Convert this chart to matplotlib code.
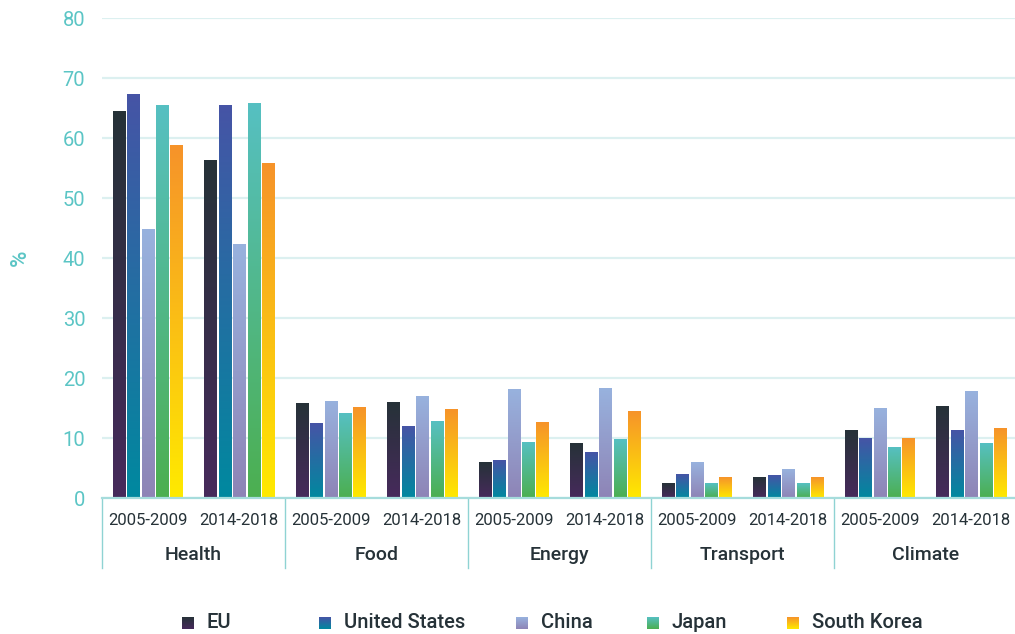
import matplotlib
matplotlib.use("Agg")
import matplotlib.pyplot as plt
import numpy as np
from matplotlib.colors import to_rgb

plt.rcParams['font.family'] = ['Roboto', 'DejaVu Sans']

categories = ['Health', 'Food', 'Energy', 'Transport', 'Climate']
periods = ['2005-2009', '2014-2018']
series = ['EU', 'United States', 'China', 'Japan', 'South Korea']

# values per series: [cat0 p0, cat0 p1, cat1 p0, cat1 p1, ...]
eu = [64.5, 56.3, 15.7, 15.9, 6.0, 9.1, 2.5, 3.4, 11.2, 15.2]
us = [67.3, 65.5, 12.5, 11.9, 6.25, 7.6, 4.0, 3.7, 9.9, 11.2]
china = [44.8, 42.2, 16.1, 17.0, 18.1, 18.3, 6.0, 4.75, 14.9, 17.8]
japan = [65.5, 65.8, 14.1, 12.7, 9.3, 9.8, 2.4, 2.5, 8.5, 9.1]
korea = [58.8, 55.8, 15.1, 14.8, 12.6, 14.4, 3.4, 3.35, 10.0, 11.6]
values = [eu, us, china, japan, korea]

# gradient colours (top, bottom) for each series
grads = [('#263238', '#472a5c'),
         ('#4654a6', '#00899f'),
         ('#98b2de', '#8e84b6'),
         ('#56c0c2', '#4caf50'),
         ('#f6932a', '#ffea00')]

teal = '#5bc5c5'
dark = '#263238'


def gradient(top, bottom, n=256):
    t = np.linspace(0, 1, n)[:, None, None]
    return (1 - t) * np.array(to_rgb(top)) + t * np.array(to_rgb(bottom))


fig = plt.figure(figsize=(10.15, 6.34), dpi=100)
ax = fig.add_axes([102 / 1015, 1 - 498 / 634, 915 / 1015, 480 / 634])

step = 0.157
width = 0.132
for s, vals in enumerate(values):
    img = gradient(*grads[s])
    for i, v in enumerate(vals):
        xc = i + 0.5 + (s - 2) * step
        ax.imshow(img, extent=[xc - width / 2, xc + width / 2, 0, v],
                  aspect='auto', origin='upper', zorder=3, interpolation='bilinear')

ax.set_xlim(0, 2 * len(categories))
ax.set_ylim(0, 80)
ax.set_yticks(range(0, 81, 10))
ax.set_xticks([])
ax.grid(axis='y', color='#dcf0f0', linewidth=1.6, zorder=0)
ax.tick_params(axis='y', length=0, pad=12, labelsize=14.5, labelcolor=teal)
for side in ['top', 'right', 'left']:
    ax.spines[side].set_visible(False)
ax.spines['bottom'].set_color('#a6dcdc')
ax.spines['bottom'].set_linewidth(1.6)
ax.spines['bottom'].set_zorder(4)
ax.set_ylabel('%', color=teal, fontsize=16, weight='medium')
ax.yaxis.set_label_coords(-0.078, 0.5)

# category / period labels under the axis
tr = ax.get_xaxis_transform()
for g, cat in enumerate(categories):
    for p, per in enumerate(periods):
        ax.text(2 * g + p + 0.5, -0.046, per, transform=tr, ha='center', va='center',
                fontsize=12, color=dark)
    ax.text(2 * g + 1, -0.119, cat, transform=tr, ha='center', va='center',
            fontsize=14, color=dark, weight='medium')
for g in range(len(categories)):
    ax.plot([2 * g, 2 * g], [0, -0.146], transform=tr, color='#8fd3d3',
            linewidth=1.0, clip_on=False)

# legend with gradient swatches
lax = fig.add_axes([0, 0, 1, 1], zorder=-1)
lax.axis('off')
swatch_x = [182, 319, 516, 647, 787]
for s, name in enumerate(series):
    x0 = swatch_x[s]
    lax.imshow(gradient(*grads[s]), extent=[x0, x0 + 12, 629, 617],
               aspect='auto', origin='upper', interpolation='bilinear')
    lax.text(x0 + 25, 623, name, ha='left', va='center', fontsize=14.5,
             color=dark, weight='medium')
lax.set_xlim(0, 1015)
lax.set_ylim(634, 0)

fig.savefig('out.png', dpi=100)
